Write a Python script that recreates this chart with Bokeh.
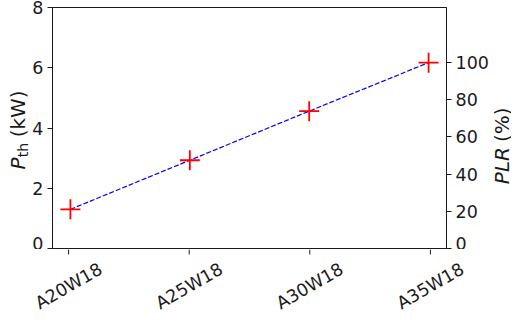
import math
from bokeh.plotting import figure
from bokeh.layouts import row, column
from bokeh.models import Range1d, LinearAxis, FixedTicker
from bokeh.core.properties import value
from bokeh.embed import file_html
from bokeh.resources import INLINE

# ---- data ----
configs = ["A20W18", "A25W18", "A30W18", "A35W18"]
p_th = [1.30, 2.93, 4.56, 6.17]          # thermal power (kW)
kw_ticks = [0, 2, 4, 6, 8]
plr_ticks = [0, 20, 40, 60, 80, 100]

FONT = "DejaVu Sans"
TXT = "#1a1a1a"
TICK_FS = "17.5px"
LAB_FS = "20px"
SUB_FS = "14px"

# ---- layout constants (px) ----
W, H = 511, 311
LT = 29            # left title strip
BL, BR = 21, 43    # main figure side borders
FW = 398           # frame width
BT, BB = 7, 1      # main figure top/bottom borders
FH = 241           # frame height
TICK = 5
MW = BL + FW + BR
MH = BT + FH + BB
RT = W - LT - MW   # right title strip
BH = H - MH        # bottom strip (x ticks + category labels)

xpos = list(range(len(configs)))
x0, x1 = -0.15, len(configs) - 1 + 0.15
kw_max = 8
plr_max = kw_max / max(p_th) * 100

# ---- main plot ----
p = figure(width=MW, height=MH, output_backend="svg", toolbar_location=None,
           x_range=Range1d(x0, x1), y_range=Range1d(0, kw_max),
           x_axis_location=None,
           min_border_left=BL, min_border_right=BR,
           min_border_top=BT, min_border_bottom=BB)
p.extra_y_ranges = {"plr": Range1d(0, plr_max)}
p.add_layout(LinearAxis(y_range_name="plr", ticker=FixedTicker(ticks=plr_ticks)), "right")
p.yaxis[0].ticker = FixedTicker(ticks=kw_ticks)

for ax in p.axis:
    ax.axis_line_color = TXT
    ax.major_tick_line_color = TXT
    ax.major_tick_out = TICK
    ax.major_tick_in = 0
    ax.minor_tick_line_color = None
    ax.major_label_text_font = FONT
    ax.major_label_text_font_size = TICK_FS
    ax.major_label_text_color = TXT
    ax.major_label_standoff = 4

p.xgrid.visible = False
p.ygrid.visible = False
p.outline_line_color = TXT
p.outline_line_alpha = 1.0

p.line(xpos, p_th, line_color="blue", line_width=1.2, line_dash="5 2")
p.scatter(xpos, p_th, marker="cross", size=20, line_color="red", line_width=1.8)


def strip(w, h, xr, yr):
    f = figure(width=w, height=h, output_backend="svg", toolbar_location=None,
               x_range=Range1d(*xr), y_range=Range1d(*yr),
               x_axis_type=None, y_axis_type=None, min_border=0)
    f.outline_line_color = None
    return f


def vtext(f, x, y, txt, size=LAB_FS, style="normal"):
    f.text(x=[x], y=[y], text=[txt], angle=math.pi / 2,
           text_font=value(FONT), text_font_size=size, text_font_style=style,
           text_color=TXT, text_align="left", text_baseline="middle")


yc = MH - (BT + FH / 2)   # frame centre, measured from strip bottom

# ---- left title: P_th (kW) ----
lt = strip(LT, MH, (0, LT), (0, MH))
vtext(lt, 17, yc - 40, "P", style="italic")
vtext(lt, 22.5, yc - 27.3, "th", size=SUB_FS)
vtext(lt, 17, yc - 6.6, "(kW)")

# ---- right title: PLR (%) ----
rt = strip(RT, MH, (0, RT), (0, MH))
vtext(rt, 10, yc - 55, "PLR", style="italic")
vtext(rt, 10, yc - 11.5, "(%)")

# ---- bottom strip: x ticks and rotated category labels on the main x scale ----
ppu = FW / (x1 - x0)
bt = strip(W, BH, (x0 - (LT + BL) / ppu, x1 + (W - LT - BL - FW) / ppu), (0, BH))
bt.segment(x0=xpos, y0=[BH] * len(xpos), x1=xpos, y1=[BH - TICK] * len(xpos),
           line_color=TXT, line_width=1)
bt.text(x=xpos, y=[BH - 36.5] * len(xpos), text=configs, angle=math.pi / 6,
        text_font=value(FONT), text_font_size=TICK_FS, text_color=TXT,
        text_align="center", text_baseline="middle")

layout = column(row(lt, p, rt), bt)
open("out.html", "w").write(file_html(layout, INLINE))
